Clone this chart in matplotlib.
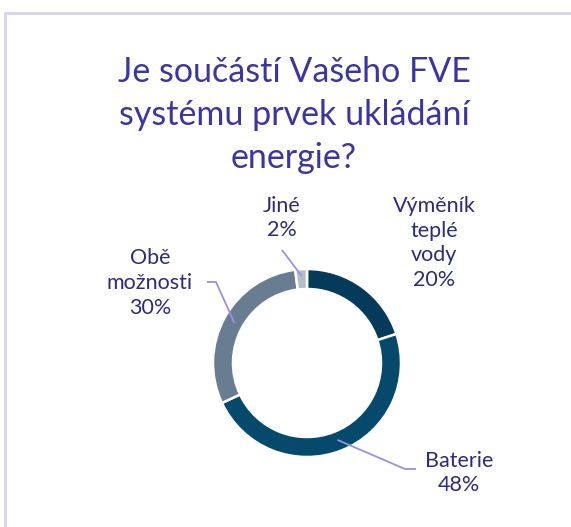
import matplotlib
matplotlib.use("Agg")
import matplotlib.pyplot as plt
from matplotlib.patches import Rectangle
import numpy as np

plt.rcParams['font.family'] = ['Lato', 'DejaVu Sans']

title = "Je součástí Vašeho FVE\nsystému prvek ukládání\nenergie?"
categories = ["Výměník\nteplé\nvody", "Baterie", "Obě\nmožnosti", "Jiné"]
values = [20, 48, 30, 2]
colors = ["#043b5a", "#054a6c", "#687d92", "#b5bec8"]

W, H = 571, 527
fig = plt.figure(figsize=(W / 100, H / 100), dpi=100)
ax = fig.add_axes([0, 0, 1, 1])
ax.set_xlim(0, W)
ax.set_ylim(0, H)
ax.set_aspect('equal')
ax.axis('off')

# frame (partially cut off)
fig.patches.append(Rectangle((5 / W, -0.5), 2, (H - 13) / H + 0.5, transform=fig.transFigure,
                             fill=False, edgecolor="#d6d2f2", linewidth=2))

cx, cy, R = 307, H - 363, 94
wedges, _ = ax.pie(values, colors=colors, startangle=90, counterclock=False,
                   center=(cx, cy), radius=R, frame=True,
                   wedgeprops=dict(width=20, edgecolor='white', linewidth=1.8))
ax.set_xlim(0, W)
ax.set_ylim(0, H)
ax.axis('off')

text_color = "#2e2a7c"
line_color = "#9b90e2"

fig.text(294 / W, 1 - 115 / H, title, ha='center', va='center', fontsize=24.5,
         color="#3b35a3", linespacing=1.42)

# label positions (pixel coords, top-left origin) and leader bends
label_pos = [(434, 243), (459, 473), (150, 283), (282, 218)]
leaders = [None, [(405, 469), (416, 469)], [(216, 282), (207, 282)], [(282, 250)]]
leader_r = [None, 0.88, 0.88, 0.93]

for i, (w, cat, v) in enumerate(zip(wedges, categories, values)):
    lx, ly = label_pos[i]
    ax.text(lx, H - ly, f"{cat}\n{v}%", ha='center', va='center', fontsize=15.5,
            color=text_color, linespacing=1.3)
    if leaders[i] is not None:
        ang = np.deg2rad((w.theta1 + w.theta2) / 2)
        sx = cx + R * leader_r[i] * np.cos(ang)
        sy = cy + R * leader_r[i] * np.sin(ang)
        xs = [sx] + [p[0] for p in leaders[i]]
        ys = [sy] + [H - p[1] for p in leaders[i]]
        ax.plot(xs, ys, color=line_color, linewidth=1.3, solid_capstyle='butt')

fig.savefig("out.png", dpi=100)
